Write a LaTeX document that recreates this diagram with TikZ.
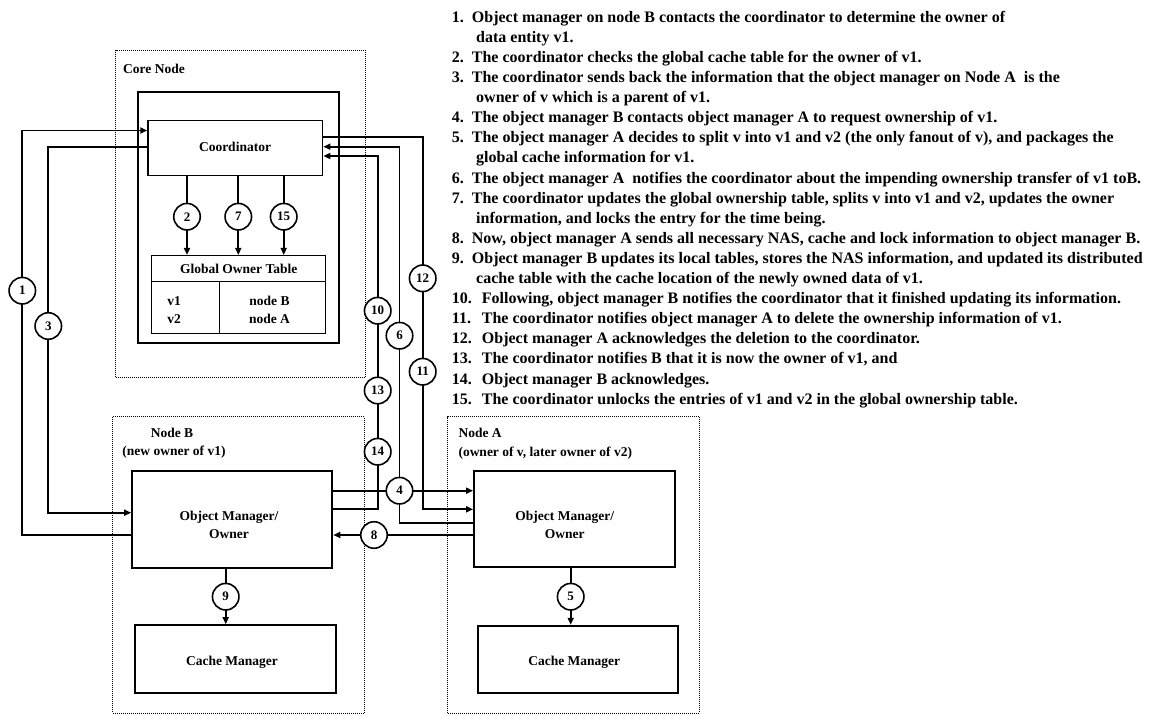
\documentclass[tikz,border=0pt]{standalone}
\usepackage{fontspec}
\setmainfont{Liberation Serif}
\usetikzlibrary{arrows.meta}
\begin{document}
\begin{tikzpicture}[x=1pt,y=-1pt,
  every node/.style={font=\fontsize{13.5}{16}\selectfont\bfseries, inner sep=0pt},
  box/.style={draw, line width=1.8pt, rectangle},
  region/.style={draw, line width=0.9pt, dash pattern=on 1pt off 1pt, rectangle},
  num/.style={draw, circle, fill=white, line width=1.6pt, minimum size=26.5pt, inner sep=0pt,
              font=\fontsize{13}{13}\selectfont\bfseries},
  conn/.style={line width=1.7pt},
  arr/.style={conn, -{Triangle[length=7pt,width=6pt]}},
  txt/.style={anchor=base west},
  ctxt/.style={anchor=base},
  item/.style={anchor=base west, font=\fontsize{16}{18}\selectfont\bfseries},
]
\useasboundingbox (0,0) rectangle (1153,715);

% ---------- regions ----------
\node[region, minimum width=249.3pt, minimum height=327.7pt] (core) at (240.3,213.8) {};
\node[region, minimum width=251.6pt, minimum height=296.3pt] (nodeB) at (238.5,564.8) {};
\node[region, minimum width=251.3pt, minimum height=296.3pt] (nodeA) at (573.3,564.8) {};

\node[txt] (coreL) at (123,73.5) {Core Node};
\node[ctxt] (nodeBL1) at (172,437) {Node B};
\node[ctxt] (nodeBL2) at (174,455.5) {(new owner of v1)};
\node[txt] (nodeAL1) at (458.3,437) {Node A};
\node[txt] (nodeAL2) at (458.3,456.4) {(owner of v, later owner of v2)};

% ---------- core node ----------
\node[box, line width=2pt, minimum width=200.7pt, minimum height=251pt] (inner) at (238.7,217.2) {};
\node[box, line width=1.4pt, minimum width=174.7pt, minimum height=54.6pt] (coord) at (235.3,148) {};
\node[ctxt] (coordT) at (235,151.4) {Coordinator};

\node[box, line width=1.5pt, minimum width=174pt, minimum height=77.6pt] (tbl) at (238.7,294.5) {};
\coordinate (hdr) at (219.3,281.3);
\draw[line width=1.5pt] (tbl.west |- hdr) -- (tbl.east |- hdr);
\draw[line width=1.5pt] (hdr) -- (hdr |- tbl.south);
\node[ctxt] (tblT) at (238.7,273.2) {Global Owner Table};
\node[ctxt] (v1) at (174,305.4) {v1};
\node[ctxt] (v2) at (174,323) {v2};
\node[ctxt] (oB) at (269.5,305.4) {node B};
\node[ctxt] (oA) at (269.5,323) {node A};

% ---------- node B ----------
\node[box, minimum width=200.3pt, minimum height=97pt] (omB) at (232.2,519.2) {};
\node[ctxt] (omBT1) at (229,520.4) {Object Manager/};
\node[ctxt] (omBT2) at (229,538.4) {Owner};
\node[box, minimum width=200.7pt, minimum height=68.3pt] (cacheB) at (235.3,659.2) {};
\node[ctxt] (cacheBT) at (232,665.4) {Cache Manager};

% ---------- node A ----------
\node[box, minimum width=201pt, minimum height=96.6pt] (omA) at (574.5,519) {};
\node[ctxt] (omAT1) at (564.7,520.4) {Object Manager/};
\node[ctxt] (omAT2) at (564.7,538.4) {Owner};
\node[box, minimum width=200pt, minimum height=67.6pt] (cacheA) at (577.7,659.5) {};
\node[ctxt] (cacheAT) at (574.2,665.4) {Cache Manager};

% ---------- step marker positions ----------
\coordinate (c1) at (22.3,290.7);
\coordinate (c3) at (48.3,326);
\coordinate (c2) at (187,216.7);
\coordinate (c7) at (238.3,216.7);
\coordinate (c15) at (283.7,216.7);
\coordinate (c4) at (399.5,490.7);
\coordinate (c5) at (570.7,596.7);
\coordinate (c6) at (399.5,335.7);
\coordinate (c8) at (374,535);
\coordinate (c9) at (225.7,596.7);
\coordinate (c10) at (377.7,310.7);
\coordinate (c13) at (377.7,390.5);
\coordinate (c14) at (377.7,451.7);
\coordinate (c12) at (422.7,278.3);
\coordinate (c11) at (422.7,371.7);

% ---------- route bends ----------
\coordinate (p1a) at (22.3,535);
\coordinate (p1b) at (22.3,130.5);
\coordinate (p3a) at (48.3,146.7);
\coordinate (p3b) at (48.3,512.7);
\coordinate (p6a) at (399.5,522.7);
\coordinate (p6b) at (399.5,146.7);
\coordinate (p10a) at (377.7,509.3);
\coordinate (p10b) at (377.7,156);
\coordinate (p11a) at (422.7,136.7);
\coordinate (p11b) at (422.7,509.3);

% ---------- connectors ----------
\draw[arr] (omB.west |- p1a) -- (p1a) -- (p1b) -- (coord.west |- p1b);
\draw[arr] (coord.west |- p3a) -- (p3a) -- (p3b) -- (omB.west |- p3b);
\draw[arr] (coord.south -| c2) -- (tbl.north -| c2);
\draw[arr] (coord.south -| c7) -- (tbl.north -| c7);
\draw[arr] (coord.south -| c15) -- (tbl.north -| c15);
\draw[arr] (omB.east |- c4) -- (omA.west |- c4);
\draw[arr] (omA.south -| c5) -- (cacheA.north -| c5);
\draw[arr] (omA.west |- p6a) -- (p6a) -- (p6b) -- (coord.east |- p6b);
\draw[arr] (omA.west |- c8) -- (omB.east |- c8);
\draw[arr] (omB.south -| c9) -- (cacheB.north -| c9);
\draw[arr] (omB.east |- p10a) -- (p10a) -- (p10b) -- (coord.east |- p10b);
\draw[arr] (coord.east |- p11a) -- (p11a) -- (p11b) -- (omA.west |- p11b);

% ---------- step markers ----------
\foreach \k in {1,2,3,4,5,6,7,8,9,10,11,12,13,14,15}
  \node[num] (n\k) at (c\k) {\k};

% ---------- step descriptions ----------
\newcommand{\stepA}[1]{\makebox[20pt][l]{#1.}}
\newcommand{\stepB}[1]{\makebox[30pt][l]{#1.}}
\node[item] (s1)  at (451.7,22.2)  {\stepA{1}Object manager on node B contacts the coordinator to determine the owner of};
\node[item] (s1b) at (476,42.3)    {data entity v1.};
\node[item] (s2)  at (451.7,62.4)  {\stepA{2}The coordinator checks the global cache table for the owner of v1.};
\node[item] (s3)  at (451.7,82.5)  {\stepA{3}The coordinator sends back the information that the object manager on Node A~ is the};
\node[item] (s3b) at (476,102.6)   {owner of v which is a parent of v1.};
\node[item] (s4)  at (451.7,122.7) {\stepA{4}The object manager B contacts object manager A to request ownership of v1.};
\node[item] (s5)  at (451.7,142.8) {\stepA{5}The object manager A decides to split v into v1 and v2 (the only fanout of v), and packages the};
\node[item] (s5b) at (476,162.9)   {global cache information for v1.};
\node[item] (s6)  at (451.7,183.0) {\stepA{6}The object manager A~ notifies the coordinator about the impending ownership transfer of v1 toB.};
\node[item] (s7)  at (451.7,203.1) {\stepA{7}The coordinator updates the global ownership table, splits v into v1 and v2, updates the owner};
\node[item] (s7b) at (476,223.2)   {information, and locks the entry for the time being.};
\node[item] (s8)  at (451.7,243.3) {\stepA{8}Now, object manager A sends all necessary NAS, cache and lock information to object manager B.};
\node[item] (s9)  at (451.7,263.4) {\stepA{9}Object manager B updates its local tables, stores the NAS information, and updated its distributed};
\node[item] (s9b) at (476,283.5)   {cache table with the cache location of the newly owned data of v1.};
\node[item] (s10) at (451.7,303.6) {\stepB{10}Following, object manager B notifies the coordinator that it finished updating its information.};
\node[item] (s11) at (451.7,323.7) {\stepB{11}The coordinator notifies object manager A to delete the ownership information of v1.};
\node[item] (s12) at (451.7,343.8) {\stepB{12}Object manager A acknowledges the deletion to the coordinator.};
\node[item] (s13) at (451.7,363.9) {\stepB{13}The coordinator notifies B that it is now the owner of v1, and};
\node[item] (s14) at (451.7,384.0) {\stepB{14}Object manager B acknowledges.};
\node[item] (s15) at (451.7,404.1) {\stepB{15}The coordinator unlocks the entries of v1 and v2 in the global ownership table.};
\end{tikzpicture}
\end{document}
